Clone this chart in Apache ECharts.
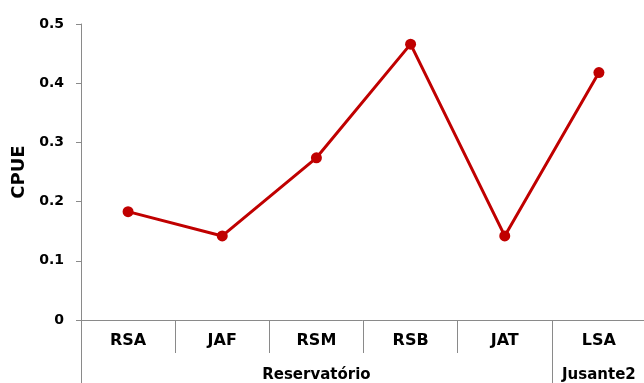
<!DOCTYPE html>
<html>
<head>
<meta charset="utf-8">
<script src="https://cdn.jsdelivr.net/npm/echarts@6/dist/echarts.min.js"></script>
<style>
html,body{margin:0;padding:0;background:#fff;}
#chart{width:644px;height:383px;}
</style>
</head>
<body>
<div id="chart"></div>
<script>
var categories = ['RSA', 'JAF', 'RSM', 'RSB', 'JAT', 'LSA'];
var cpue = [0.183, 0.142, 0.274, 0.466, 0.142, 0.418];
var groupNames = ['Reservatório', 'Jusante2'];
var groupSpans = [5, 1];
var yTicks = [0, 0.1, 0.2, 0.3, 0.4, 0.5];

// group label index (middle category) and boundary indices
var groupLabelAt = {};
var boundaries = {0: true};
var start = 0;
for (var g = 0; g < groupNames.length; g++) {
  groupLabelAt[start + Math.floor((groupSpans[g] - 1) / 2)] = groupNames[g];
  boundaries[start] = true;
  start += groupSpans[g];
}

var font = 'DejaVu Sans';
var axisColor = '#8a8a8a';
var chart = echarts.init(document.getElementById('chart'), null, {renderer: 'canvas'});
chart.setOption({
  animation: false,
  backgroundColor: '#fff',
  grid: {left: 81, right: -2, top: 24, bottom: 63, containLabel: false, outerBoundsMode: 'none'},
  xAxis: [{
    type: 'category',
    data: categories,
    boundaryGap: true,
    position: 'bottom',
    axisLine: {show: true, lineStyle: {color: axisColor, width: 1}},
    axisTick: {show: true, interval: 0, length: 33, lineStyle: {color: axisColor}},
    axisLabel: {interval: 0, margin: 13, color: '#000', fontFamily: font, fontWeight: 'bold', fontSize: 16}
  }, {
    type: 'category',
    data: categories,
    boundaryGap: true,
    position: 'bottom',
    axisLine: {show: false},
    axisTick: {show: true, length: 63, lineStyle: {color: axisColor},
      interval: function (i) { return !!boundaries[i]; }},
    axisLabel: {interval: 0, margin: 48, color: '#000', fontFamily: font, fontWeight: 'bold', fontSize: 15,
      formatter: function (v, i) { return groupLabelAt[i] || ''; }}
  }],
  yAxis: {
    type: 'value',
    min: yTicks[0],
    max: yTicks[yTicks.length - 1],
    interval: yTicks[1] - yTicks[0],
    name: 'CPUE',
    nameLocation: 'middle',
    nameGap: 52,
    nameTextStyle: {color: '#000', fontFamily: font, fontWeight: 'bold', fontSize: 18},
    axisLine: {show: true, lineStyle: {color: axisColor, width: 1}},
    axisTick: {show: true, length: 5, lineStyle: {color: axisColor}},
    splitLine: {show: false},
    axisLabel: {margin: 17, color: '#000', fontFamily: font, fontWeight: 'bold', fontSize: 14,
      formatter: function (v) { return v === 0 ? '0' : v.toFixed(1); }}
  },
  series: [{
    type: 'line',
    data: cpue,
    xAxisIndex: 0,
    symbol: 'circle',
    symbolSize: 11,
    itemStyle: {color: '#C00000'},
    lineStyle: {color: '#C00000', width: 3}
  }]
});
</script>
</body>
</html>
